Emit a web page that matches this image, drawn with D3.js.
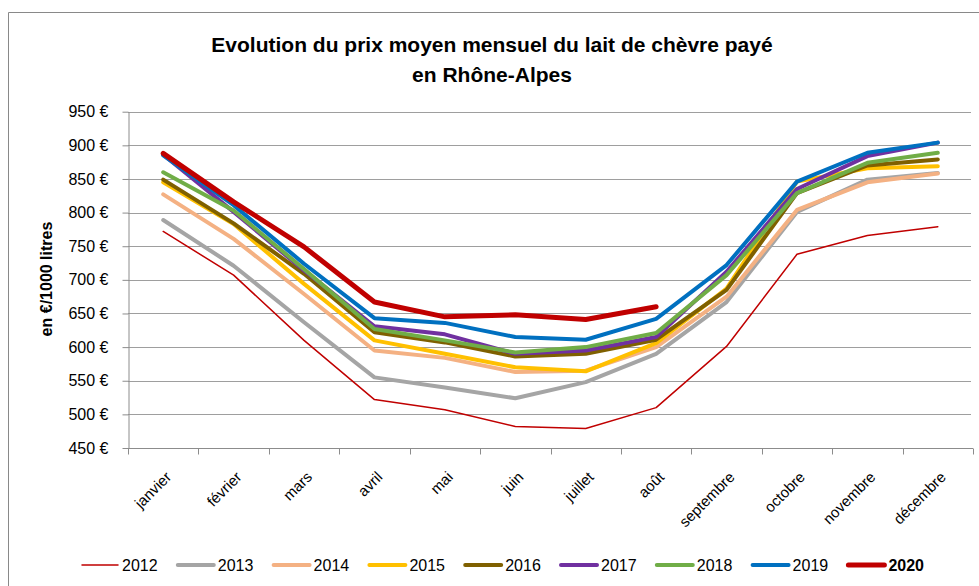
<!DOCTYPE html>
<html>
<head>
<meta charset="utf-8">
<script src="https://cdn.jsdelivr.net/npm/d3@7"></script>
<style>
  body { margin: 0; background: #fff; }
  text { font-family: "Liberation Sans", sans-serif; fill: #000; }
</style>
</head>
<body>
<div id="chart"></div>
<script>
var months = ["janvier", "février", "mars", "avril", "mai", "juin", "juillet", "août", "septembre", "octobre", "novembre", "décembre"];
var years = ["2012", "2013", "2014", "2015", "2016", "2017", "2018", "2019", "2020"];
var yTicks = [450, 500, 550, 600, 650, 700, 750, 800, 850, 900, 950];

var v2012 = [772, 707, 610, 522, 507, 482, 479, 510, 601, 738, 766, 779];
var v2013 = [789, 721, 637, 555, 540, 524, 548, 590, 667, 801, 849, 859];
var v2014 = [827, 761, 679, 595, 584, 563, 565, 600, 675, 804, 845, 858];
var v2015 = [845, 783, 694, 610, 590, 570, 564, 606, 687, 846, 866, 869];
var v2016 = [849, 784, 709, 622, 607, 586, 590, 611, 685, 829, 870, 879];
var v2017 = [886, 801, 714, 631, 619, 590, 595, 615, 712, 835, 884, 904];
var v2018 = [860, 803, 716, 627, 610, 592, 600, 621, 707, 829, 874, 889];
var v2019 = [885, 811, 724, 643, 636, 615, 611, 642, 722, 846, 889, 904];
var v2020 = [888, 816, 749, 667, 645, 648, 641, 660, null, null, null, null];

var series = [v2012, v2013, v2014, v2015, v2016, v2017, v2018, v2019, v2020];
var colors = ["#c00000", "#a5a5a5", "#f4b183", "#ffc000", "#7f6000", "#7030a0", "#70ad47", "#0070c0", "#c00000"];
var widths = [1.5, 4, 4, 4, 4, 4, 4, 4, 5];

var w = 979, h = 586;
var plotLeft = 128, plotRight = 973, plotTop = 111.7, plotBottom = 448;

var svg = d3.select("#chart").append("svg")
    .attr("width", w)
    .attr("height", h);

// chart frame
svg.append("path")
    .attr("d", "M8.5," + (h + 5) + "V12.5H" + (w + 5))
    .attr("fill", "none")
    .attr("stroke", "#898989")
    .attr("stroke-width", 1);

// title
svg.append("text")
    .attr("x", 492).attr("y", 52)
    .attr("text-anchor", "middle")
    .style("font-size", "21px").style("font-weight", "bold")
    .text("Evolution du prix moyen mensuel du lait de chèvre payé");
svg.append("text")
    .attr("x", 492).attr("y", 82)
    .attr("text-anchor", "middle")
    .style("font-size", "21px").style("font-weight", "bold")
    .text("en Rhône-Alpes");

var x = d3.scaleBand().domain(months).range([plotLeft, plotRight]);
var y = d3.scaleLinear().domain([450, 950]).range([plotBottom, plotTop]);

// gridlines
svg.append("g")
    .selectAll("line")
    .data(yTicks.slice(1))
    .enter().append("line")
    .attr("x1", plotLeft).attr("x2", plotRight - 2)
    .attr("y1", function(d) { return Math.round(y(d)) + 0.5; })
    .attr("y2", function(d) { return Math.round(y(d)) + 0.5; })
    .attr("stroke", "#9e9e9e");

// y axis
var yAxis = svg.append("g")
    .attr("transform", "translate(" + (plotLeft + 0.5) + ",0)")
    .call(d3.axisLeft(y).tickValues(yTicks).tickSize(6).tickSizeOuter(0).tickPadding(14)
        .tickFormat(function(d) { return d + " €"; }));
yAxis.selectAll("line, path").attr("stroke", "#8c8c8c");
yAxis.selectAll("text").style("font-size", "16px").style("font-family", "\"Liberation Sans\", sans-serif");

// x axis
var xAxis = svg.append("g")
    .attr("transform", "translate(0," + (plotBottom + 0.5) + ")");
xAxis.append("line")
    .attr("x1", plotLeft).attr("x2", plotRight)
    .attr("stroke", "#8c8c8c");
xAxis.selectAll(".sep")
    .data(d3.range(months.length + 1))
    .enter().append("line")
    .attr("x1", function(i) { return Math.round(plotLeft + i * x.step()) + 0.5; })
    .attr("x2", function(i) { return Math.round(plotLeft + i * x.step()) + 0.5; })
    .attr("y1", 0).attr("y2", 6)
    .attr("stroke", "#8c8c8c");

svg.append("g")
    .selectAll("text")
    .data(months)
    .enter().append("text")
    .attr("transform", function(d) {
        return "translate(" + (x(d) + x.bandwidth() / 2 + 9) + ",478) rotate(-45)";
    })
    .attr("text-anchor", "end")
    .style("font-size", "15px")
    .text(function(d) { return d; });

// axis title
svg.append("text")
    .attr("transform", "translate(52,279) rotate(-90)")
    .attr("text-anchor", "middle")
    .style("font-size", "16px").style("font-weight", "bold")
    .text("en €/1000 litres");

// lines
var line = d3.line()
    .defined(function(d) { return d != null; })
    .x(function(d, i) { return x(months[i]) + x.bandwidth() / 2; })
    .y(function(d) { return y(d); });

svg.append("g")
    .selectAll("path")
    .data(series)
    .enter().append("path")
    .attr("d", line)
    .attr("fill", "none")
    .attr("stroke", function(d, i) { return colors[i]; })
    .attr("stroke-width", function(d, i) { return widths[i]; })
    .attr("stroke-linejoin", "round")
    .attr("stroke-linecap", "round");

// legend
var legend = svg.append("g")
    .selectAll("g")
    .data(years)
    .enter().append("g")
    .attr("transform", function(d, i) { return "translate(" + (82 + i * 95.8) + ",565)"; });

legend.append("line")
    .attr("x1", 0).attr("x2", 36)
    .attr("stroke", function(d, i) { return colors[i]; })
    .attr("stroke-width", function(d, i) { return widths[i]; })
    .attr("stroke-linecap", "round");

legend.append("text")
    .attr("x", 40).attr("dy", "0.35em")
    .style("font-size", "16px")
    .style("font-weight", function(d, i) { return i === years.length - 1 ? "bold" : "normal"; })
    .text(function(d) { return d; });
</script>
</body>
</html>
